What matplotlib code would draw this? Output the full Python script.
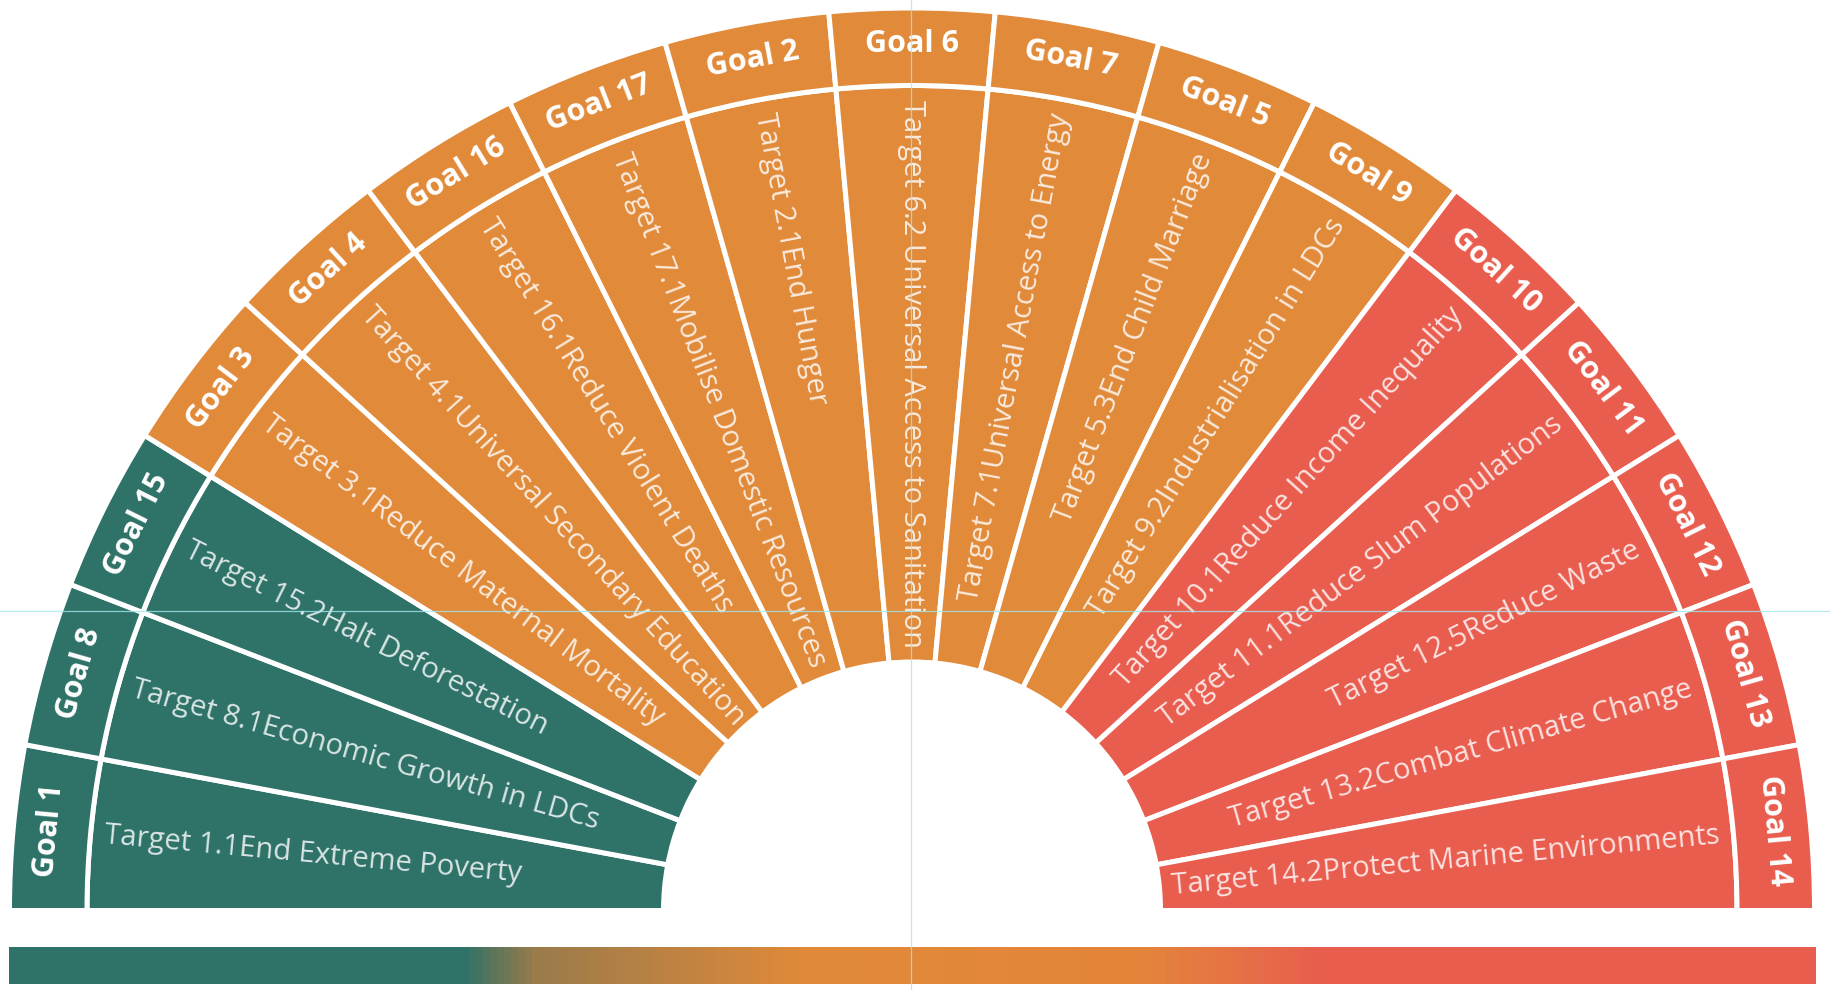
"""
SDG semicircle: 17 goals, one headline target each, plus a colour bar.
"""
import matplotlib
matplotlib.use("Agg")
import matplotlib.pyplot as plt
import numpy as np
from matplotlib.patches import Wedge
from matplotlib.colors import LinearSegmentedColormap

plt.rcParams["font.family"] = ["Open Sans", "DejaVu Sans"]

# ---- Data ---------------------------------------------------------------
# wedges from left (180 deg) to right (0 deg)
GOALS = ["Goal 1", "Goal 8", "Goal 15", "Goal 3", "Goal 4", "Goal 16",
         "Goal 17", "Goal 2", "Goal 6", "Goal 7", "Goal 5", "Goal 9",
         "Goal 10", "Goal 11", "Goal 12", "Goal 13", "Goal 14"]
TARGETS = [
    "Target 1.1End Extreme Poverty",
    "Target 8.1Economic Growth in LDCs",
    "Target 15.2Halt Deforestation",
    "Target 3.1Reduce Maternal Mortality",
    "Target 4.1Universal Secondary Education",
    "Target 16.1Reduce Violent Deaths",
    "Target 17.1Mobilise Domestic Resources",
    "Target 2.1End Hunger",
    "Target 6.2 Universal Access to Sanitation",
    "Target 7.1Universal Access to Energy",
    "Target 5.3End Child Marriage",
    "Target 9.2Industrialisation in LDCs",
    "Target 10.1Reduce Income Inequality",
    "Target 11.1Reduce Slum Populations",
    "Target 12.5Reduce Waste",
    "Target 13.2Combat Climate Change",
    "Target 14.2Protect Marine Environments",
]
GROUPS = ["teal"] * 3 + ["orange"] * 9 + ["red"] * 5

# ---- Style --------------------------------------------------------------
COLORS = {"teal": "#2e7268", "orange": "#e18a3a", "red": "#e95d4f"}
BAR_STOPS = [(0.00, "#2e7268"), (0.25, "#2e7268"), (0.29, "#9a7b4b"),
             (0.44, "#e18a3a"), (0.63, "#e3853c"), (0.73, "#e95d4f"),
             (1.00, "#e95d4f")]

W, H = 1831, 990

fig = plt.figure(figsize=(W / 100, H / 100), dpi=100)
ax = fig.add_axes([0, 0, 1, 1])
ax.set_xlim(0, W)
ax.set_ylim(0, H)
ax.axis("off")

CX, CY = 912.0, H - 910.5
R_OUT, R_RING, R_IN = 902.5, 825, 248.5
LW = 3.6

n = len(GOALS)
step = 180.0 / n
for i, (goal, target, grp) in enumerate(zip(GOALS, TARGETS, GROUPS)):
    t2 = 180.0 - i * step
    t1 = t2 - step
    tc = np.deg2rad((t1 + t2) / 2)
    col = COLORS[grp]

    inner = Wedge((CX, CY), R_RING, t1, t2, width=R_RING - R_IN,
                  facecolor=col, edgecolor="white", linewidth=LW, zorder=2)
    ring = Wedge((CX, CY), R_OUT, t1, t2, width=R_OUT - R_RING,
                 facecolor=col, edgecolor="white", linewidth=LW, zorder=2)
    ax.add_patch(inner)
    ax.add_patch(ring)

    # goal label, tangential
    rg = 866
    ax.text(CX + rg * np.cos(tc), CY + rg * np.sin(tc), goal,
            rotation=np.rad2deg(tc) - 90, rotation_mode="anchor",
            ha="center", va="center", fontsize=22, fontweight="bold",
            color="white", zorder=4)

    # target label, radial, anchored just inside the goal ring
    rt = 811
    deg = np.rad2deg(tc)
    if deg >= 89.9:
        rot, ha = deg - 180, "left"
    else:
        rot, ha = deg, "right"
    txt = ax.text(CX + rt * np.cos(tc), CY + rt * np.sin(tc), target,
                  rotation=rot, rotation_mode="anchor", ha=ha, va="center",
                  fontsize=21, color="white", alpha=0.82, zorder=4)
    txt.set_clip_path(inner)

# ---- Colour bar ---------------------------------------------------------
cmap = LinearSegmentedColormap.from_list("sdg", BAR_STOPS)
grad = np.linspace(0, 1, 600).reshape(1, -1)
ax.imshow(grad, cmap=cmap, aspect="auto", interpolation="bilinear",
          extent=[9, 1816, H - 984, H - 947], zorder=2)

# layout guides visible in the reference
ax.axvline(911, color="#9fe9ef", linewidth=0.9, alpha=0.8, zorder=6)
ax.axhline(H - 611, color="#9fe9ef", linewidth=0.9, alpha=0.8, zorder=6)

fig.savefig("out.png", dpi=100, facecolor="white")
